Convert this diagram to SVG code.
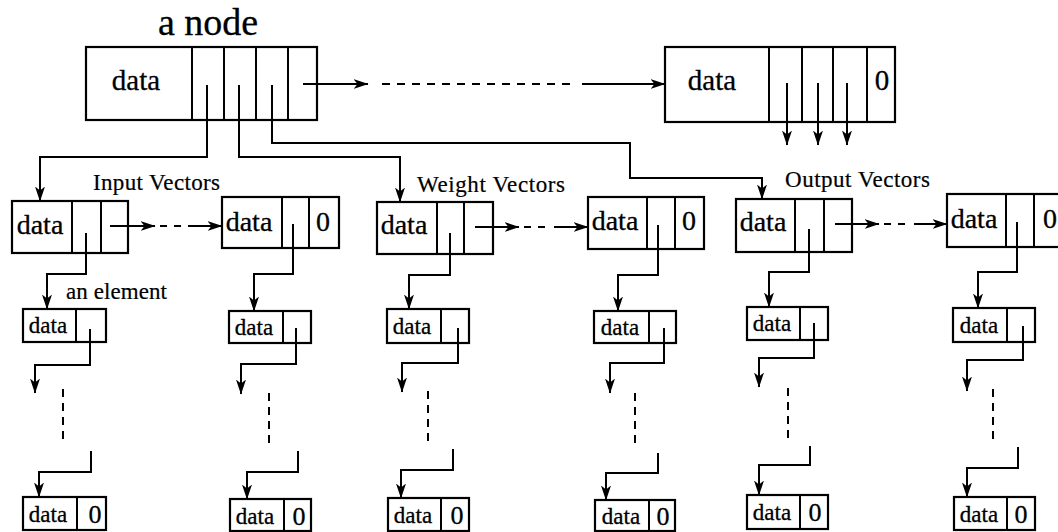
<svg xmlns="http://www.w3.org/2000/svg" width="1058" height="532" viewBox="0 0 1058 532">
<defs>
<style>
.box{fill:#fff;stroke:#000;stroke-width:2.2}
.div{stroke:#000;stroke-width:2;fill:none}
.ln{stroke:#000;stroke-width:2;fill:none}
.arr{stroke:#000;stroke-width:2;fill:none;marker-end:url(#ah)}
.dash{stroke:#000;stroke-width:2;fill:none;stroke-dasharray:8 7}
.vdash{stroke:#000;stroke-width:2;fill:none;stroke-dasharray:8 6}
.t{font-family:"Liberation Serif","Times New Roman",serif;fill:#000;stroke:#000;stroke-width:0.3}
.big{font-size:29px}
.mid{font-size:28px}
.sm{font-size:23px}
.zero{font-size:26px}
.lbl{font-size:23px;stroke-width:0.2}
</style>
<marker id="ah" viewBox="0 0 15 10" refX="14.5" refY="5" markerWidth="15" markerHeight="10" markerUnits="userSpaceOnUse" orient="auto">
<path d="M0,0 L15,5 L0,10 L4,5 Z" fill="#000"/>
</marker>
</defs>
<rect width="1058" height="532" fill="#fff"/>

<text class="t" x="158" y="35" font-size="38" style="stroke-width:0.3">a node</text>

<g id="node-main">
<rect class="box" x="86" y="47" width="231" height="73"/>
<path class="div" d="M192,47V120M224,47V120M256,47V120M288,47V120"/>
<text class="t big" x="136" y="90" text-anchor="middle">data</text>
</g>

<g id="node-last">
<rect class="box" x="665" y="47" width="230" height="75"/>
<path class="div" d="M769,47V122M802,47V122M833,47V122M867,47V122"/>
<text class="t big" x="712" y="90" text-anchor="middle">data</text>
<text class="t big" x="882" y="90" text-anchor="middle">0</text>
</g>

<g id="labels">
<text class="t lbl" x="93" y="190" textLength="127" lengthAdjust="spacing">Input Vectors</text>
<text class="t lbl" x="417" y="192" textLength="148" lengthAdjust="spacing">Weight Vectors</text>
<text class="t lbl" x="785" y="187" textLength="145" lengthAdjust="spacing">Output Vectors</text>
<text class="t lbl" x="66" y="299" textLength="101" lengthAdjust="spacing">an element</text>
</g>

<g id="input-first">
<rect class="box" x="12" y="201" width="116" height="52"/>
<path class="div" d="M72,201V253M101,201V253"/>
<text class="t mid" x="40" y="234" text-anchor="middle">data</text>
</g>
<g id="input-last">
<rect class="box" x="222" y="197" width="117" height="51"/>
<path class="div" d="M282,197V248M309,197V248"/>
<text class="t mid" x="249" y="231" text-anchor="middle">data</text>
<text class="t mid" x="323" y="231" text-anchor="middle">0</text>
</g>
<g id="weight-first">
<rect class="box" x="377" y="202" width="116" height="52"/>
<path class="div" d="M437,202V254M464,202V254"/>
<text class="t mid" x="404" y="234" text-anchor="middle">data</text>
</g>
<g id="weight-last">
<rect class="box" x="588" y="197" width="116" height="52"/>
<path class="div" d="M647,197V249M675,197V249"/>
<text class="t mid" x="615" y="230" text-anchor="middle">data</text>
<text class="t mid" x="689" y="230" text-anchor="middle">0</text>
</g>
<g id="output-first">
<rect class="box" x="736" y="199" width="116" height="53"/>
<path class="div" d="M795,199V252M824,199V252"/>
<text class="t mid" x="763" y="231" text-anchor="middle">data</text>
</g>
<g id="output-last">
<rect class="box" x="947" y="194" width="118" height="53"/>
<path class="div" d="M1006,194V247M1034,194V247"/>
<text class="t mid" x="974" y="228" text-anchor="middle">data</text>
<text class="t mid" x="1050" y="228" text-anchor="middle">0</text>
</g>

<g id="elements">
<g id="el-1a"><rect class="box" x="23" y="309" width="83" height="33"/><path class="div" d="M76,309V342"/><text class="t sm" x="48" y="333" text-anchor="middle">data</text></g>
<g id="el-1b"><rect class="box" x="23" y="497" width="83" height="33"/><path class="div" d="M77,497V530"/><text class="t sm" x="48" y="522" text-anchor="middle">data</text><text class="t zero" x="95" y="523" text-anchor="middle">0</text></g>
<g id="el-2a"><rect class="box" x="229" y="311" width="82" height="32"/><path class="div" d="M283,311V343"/><text class="t sm" x="254" y="335" text-anchor="middle">data</text></g>
<g id="el-2b"><rect class="box" x="230" y="499" width="81" height="32"/><path class="div" d="M284,499V531"/><text class="t sm" x="255" y="524" text-anchor="middle">data</text><text class="t zero" x="299" y="525" text-anchor="middle">0</text></g>
<g id="el-3a"><rect class="box" x="387" y="309" width="82" height="34"/><path class="div" d="M441,309V343"/><text class="t sm" x="412" y="334" text-anchor="middle">data</text></g>
<g id="el-3b"><rect class="box" x="388" y="498" width="81" height="33"/><path class="div" d="M441,498V531"/><text class="t sm" x="413" y="523" text-anchor="middle">data</text><text class="t zero" x="457" y="524" text-anchor="middle">0</text></g>
<g id="el-4a"><rect class="box" x="594" y="311" width="82" height="32"/><path class="div" d="M649,311V343"/><text class="t sm" x="620" y="335" text-anchor="middle">data</text></g>
<g id="el-4b"><rect class="box" x="595" y="500" width="80" height="31"/><path class="div" d="M649,500V531"/><text class="t sm" x="621" y="524" text-anchor="middle">data</text><text class="t zero" x="663" y="525" text-anchor="middle">0</text></g>
<g id="el-5a"><rect class="box" x="747" y="307" width="81" height="33"/><path class="div" d="M800,307V340"/><text class="t sm" x="772" y="331" text-anchor="middle">data</text></g>
<g id="el-5b"><rect class="box" x="747" y="495" width="81" height="34"/><path class="div" d="M800,495V529"/><text class="t sm" x="772" y="520" text-anchor="middle">data</text><text class="t zero" x="815" y="521" text-anchor="middle">0</text></g>
<g id="el-6a"><rect class="box" x="953" y="308" width="82" height="34"/><path class="div" d="M1007,308V342"/><text class="t sm" x="979" y="333" text-anchor="middle">data</text></g>
<g id="el-6b"><rect class="box" x="954" y="497" width="81" height="33"/><path class="div" d="M1007,497V530"/><text class="t sm" x="979" y="522" text-anchor="middle">data</text><text class="t zero" x="1021" y="523" text-anchor="middle">0</text></g>
</g>

<g id="connectors">
<path class="arr" d="M303,84H368"/>
<path class="dash" d="M382,84H572"/>
<path class="arr" d="M582,84H665"/>
<path class="arr" d="M787,83V145"/>
<path class="arr" d="M818,83V145"/>
<path class="arr" d="M847,83V145"/>
<path class="arr" d="M207,85V157H40V201"/>
<path class="arr" d="M239,85V157H400V202"/>
<path class="arr" d="M272,85V143H630V178H762V199"/>
<path class="arr" d="M110,226H155"/>
<path class="dash" d="M160,226H186" style="stroke-dasharray:7 7"/>
<path class="arr" d="M188,226H222"/>
<path class="arr" d="M475,227H519"/>
<path class="dash" d="M524,227H552" style="stroke-dasharray:7 7"/>
<path class="arr" d="M554,227H588"/>
<path class="arr" d="M835,224H879"/>
<path class="dash" d="M884,224H912" style="stroke-dasharray:7 7"/>
<path class="arr" d="M914,224H947"/>
<path class="arr" d="M86,233V274H47V309"/>
<path class="arr" d="M293,224V274H254V311"/>
<path class="arr" d="M450,233V275H409V309"/>
<path class="arr" d="M658,225V275H618V311"/>
<path class="arr" d="M809,229V272H769V307"/>
<path class="arr" d="M1017,222V272H978V308"/>
<path class="arr" d="M90,329V365H35V393"/>
<path class="vdash" d="M63,389V442"/>
<path class="arr" d="M91,451V472H39V497"/>
<path class="arr" d="M296,328V364H241V394"/>
<path class="vdash" d="M269,393V445"/>
<path class="arr" d="M298,451V472H247V499"/>
<path class="arr" d="M458,328V363H402V392"/>
<path class="vdash" d="M428,391V442"/>
<path class="arr" d="M453,449V470H401V498"/>
<path class="arr" d="M664,328V363H610V393"/>
<path class="vdash" d="M635,393V445"/>
<path class="arr" d="M658,453V473H606V500"/>
<path class="arr" d="M814,323V358H759V387"/>
<path class="vdash" d="M788,388V440"/>
<path class="arr" d="M810,446V465H759V495"/>
<path class="arr" d="M1023,326V360H967V391"/>
<path class="vdash" d="M993,389V440"/>
<path class="arr" d="M1018,447V468H967V497"/>
</g>
</svg>
